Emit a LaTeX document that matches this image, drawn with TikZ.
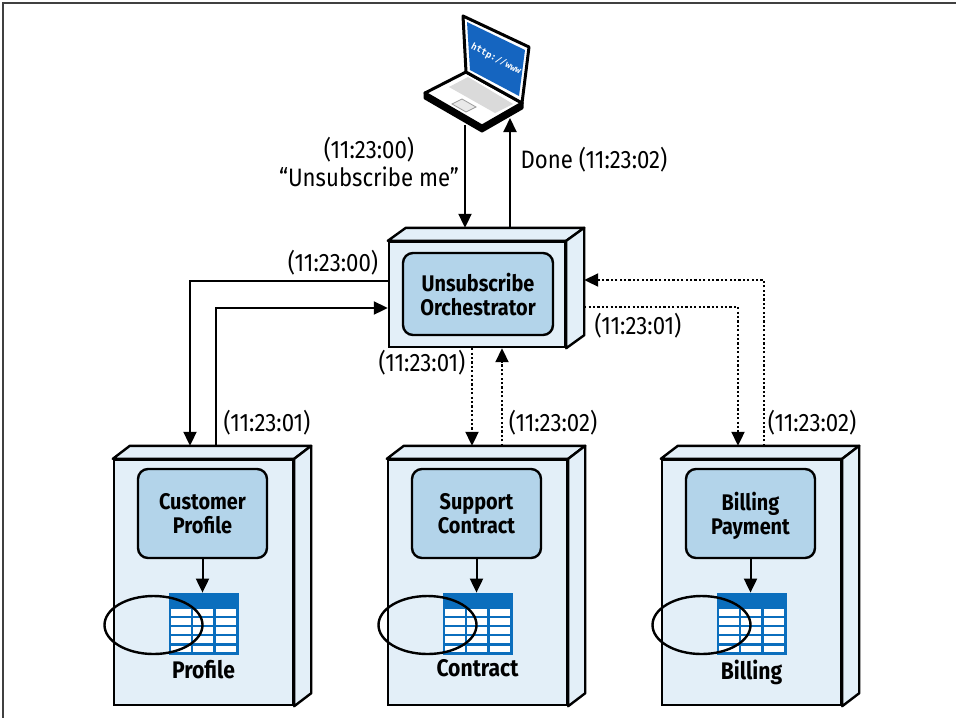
\documentclass[tikz,border=0pt]{standalone}
\usepackage{fontspec}
\setmainfont{Fira Sans}[FakeStretch=0.88]
\setmonofont{DejaVu Sans Mono}
\usetikzlibrary{arrows.meta,positioning}

\definecolor{boxfill}{HTML}{E3EFF8}
\definecolor{svcfill}{HTML}{B3D4EA}
\definecolor{tblue}{HTML}{0B6EBD}
\definecolor{scrblue}{HTML}{1565C0}
\definecolor{kbgray}{HTML}{DADADA}

\tikzset{
  front/.style={draw=black, line width=1.2pt, fill=boxfill, inner sep=0pt},
  face/.style={draw=black, line width=1.2pt, fill=boxfill, line join=round},
  svc/.style={draw=black, line width=1.2pt, fill=svcfill, rounded corners=5pt,
              align=center, inner sep=0pt, text depth=0pt,
              font=\bfseries\fontsize{11.3}{12}\selectfont},
  tbl/.style={fill=tblue, inner sep=0pt, minimum width=35pt, minimum height=31pt},
  store/.style={font=\bfseries\fontsize{12}{13}\selectfont, inner sep=1pt},
  stamp/.style={font=\fontsize{12.6}{14}\selectfont, inner sep=1pt, align=center},
  flow/.style={line width=1pt, -{Triangle[length=7pt,width=6.5pt]}},
  dots/.style={flow, dash pattern=on 1.1pt off 1.1pt},
}

\begin{document}
\begin{tikzpicture}[x=0.5pt, y=-0.5pt]
\useasboundingbox (0,0) rectangle (956,718);
\draw[black!75, line width=0.8pt] (956,3) -- (3,3) -- (3,718);

% laptop
\coordinate (lapL) at (425,93);
\coordinate (lapF) at (482,126);
\coordinate (lapR) at (522,103);
\coordinate (lapB) at (466,72);
\coordinate (scrTL) at (463,16);
\coordinate (scrTR) at (529,47);
\draw[line width=1.5pt, line join=round, fill=black]
  (lapL) -- ++(0,5) -- ([yshift=-2.5pt]lapF) -- ([yshift=-2.5pt]lapR) -- (lapR) -- (lapF) -- cycle;
\draw[line width=1.5pt, line join=round, fill=white] (lapL) -- (lapF) -- (lapR) -- (lapB) -- cycle;
\fill[kbgray] (449,87) -- (495,113) -- (513,104) -- (468,77) -- cycle;
\draw[kbgray!70!black, line width=0.4pt, fill=kbgray!60] (452,104) -- (466,112) -- (476,107) -- (462,99) -- cycle;
\draw[line width=1.5pt, line join=round, fill=white] (lapB) -- (scrTL) -- (scrTR) -- (lapR) -- cycle;
\fill[scrblue] (467,22) -- (525,50) -- (519,96) -- (470,70) -- cycle;
\node[white, rotate=-28, font=\ttfamily\bfseries\fontsize{4.6}{5}\selectfont, inner sep=0pt] (url) at (496,59) {http://www};

% orchestrator
\node[front, minimum width=88pt, minimum height=52.5pt] (orch) at (477,294.5) {};
\draw[face] (orch.north west) -- ++(18,-13) -- ([shift={(18,-13)}]orch.north east) -- (orch.north east) -- cycle;
\draw[face] (orch.north east) -- ++(18,-13) -- ([shift={(18,-13)}]orch.south east) -- (orch.south east) -- cycle;
\node[svc, minimum width=75pt, minimum height=41pt] (orchsvc) at (478,294) {Unsubscribe\\Orchestrator};

% services with their own data
\foreach \name/\x/\title/\store in {cust/203.5/Customer\\Profile/Profile,
                                    supp/477.5/Support\\Contract/Contract,
                                    bill/751.5/Billing\\Payment/Billing}{
  \node[front, minimum width=89.5pt, minimum height=122.5pt] (\name) at (\x,582.5) {};
  \draw[face] (\name.north west) -- ++(17,-13) -- ([shift={(17,-13)}]\name.north east) -- (\name.north east) -- cycle;
  \draw[face] (\name.north east) -- ++(17,-13) -- ([shift={(17,-13)}]\name.south east) -- (\name.south east) -- cycle;
  \node[svc, minimum width=64.5pt, minimum height=44.5pt] (\name svc) at (\x-1,513.5) {\title};
  \node[tbl] (\name db) at (\x,624) {};
  \foreach \c in {0,1,2}
    \foreach \r in {0,...,4}
      \fill[white] ([shift={(2.5+\c*22.5,16.5+\r*9.1)}]\name db.north west) rectangle ++(20,6.6);
  \draw[flow] (\name svc.south) -- (\name svc.south |- \name db.north);
  \draw[line width=1.2pt] (\x-50,625) ellipse [x radius=24.5pt, y radius=14.5pt];
  \node[store, below=1pt of \name db] (\name lbl) {\store};
}

% user <-> orchestrator
\coordinate (lapdn) at (465,125);
\coordinate (lapup) at (510,118);
\coordinate (orchtop) at ([yshift=6.5pt]orch.north);
\draw[flow] (lapdn) -- (lapdn |- orchtop);
\draw[flow] (lapup |- orchtop) -- (lapup);
\node[stamp] (t1) at (369,162) {(11:23:00)\\“Unsubscribe me”};
\node[stamp] (t2) at (594,160) {Done (11:23:02)};

% orchestrator <-> customer profile
\coordinate (custtop) at ([yshift=6.5pt]cust.north);
\coordinate (c1) at ([xshift=-6.75pt]custtop);
\coordinate (c2) at ([xshift=6.25pt]custtop);
\draw[flow] ([yshift=6.75pt]orch.west) -| (c1);
\draw[flow] (c2) |- ([yshift=-6.75pt]orch.west);
\node[stamp] (t3) at (333,263) {(11:23:00)};
\node[stamp] (t4) at (267,423) {(11:23:01)};

% orchestrator <-> support contract
\coordinate (supptop) at ([yshift=6.5pt]supp.north);
\coordinate (s1) at ([xshift=-2.5pt]orch.south);
\coordinate (s2) at ([xshift=12.5pt]orch.south);
\draw[dots] (s1) -- (s1 |- supptop);
\draw[dots] (s2 |- supptop) -- (s2);
\node[stamp] (t5) at (422,363) {(11:23:01)};
\node[stamp] (t6) at (553,423) {(11:23:02)};

% orchestrator <-> billing payment
\coordinate (orchside) at ([xshift=9pt]orch.east);
\coordinate (billtop) at ([yshift=6.5pt]bill.north);
\coordinate (b1) at ([xshift=-6.75pt]billtop);
\coordinate (b2) at ([xshift=6.25pt]billtop);
\draw[dots] ([yshift=-6.25pt]orchside) -| (b1);
\draw[dots] (b2) |- ([yshift=7.25pt]orchside);
\node[stamp] (t7) at (638,326) {(11:23:01)};
\node[stamp] (t8) at (812,423) {(11:23:02)};
\end{tikzpicture}
\end{document}
